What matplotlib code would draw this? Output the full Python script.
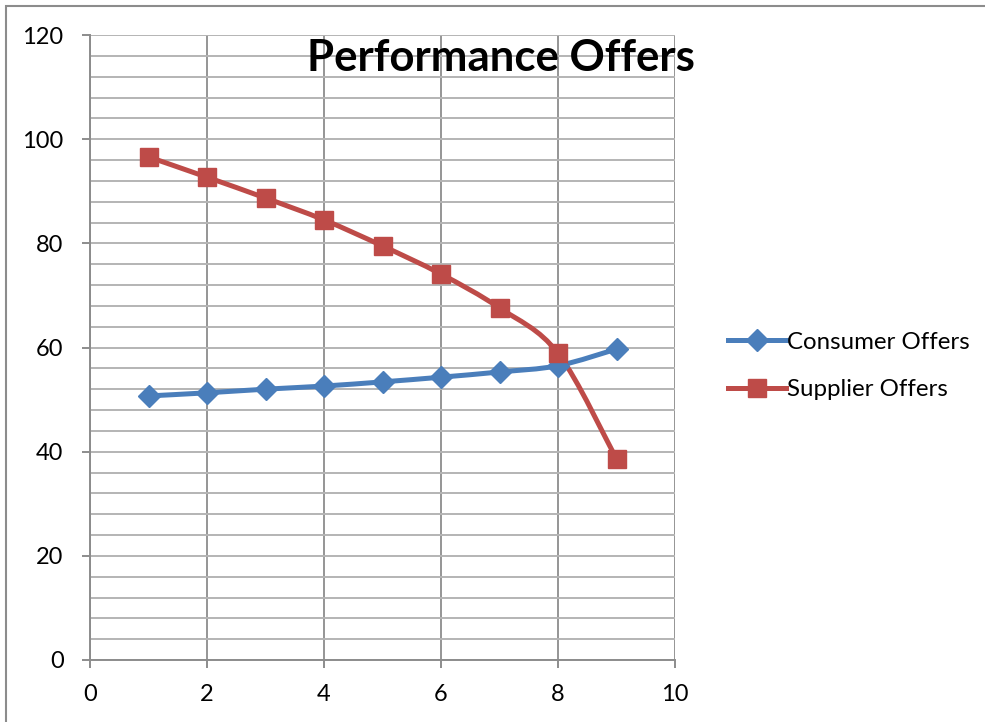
import matplotlib.pyplot as plt
from matplotlib.path import Path
from matplotlib.patches import PathPatch, Rectangle
from matplotlib.lines import Line2D

plt.rcParams['font.family'] = ['Lato', 'DejaVu Sans']

x = [1, 2, 3, 4, 5, 6, 7, 8, 9]
consumer = [50.7, 51.3, 52.0, 52.6, 53.4, 54.3, 55.3, 56.5, 59.7]
supplier = [96.6, 92.7, 88.7, 84.5, 79.5, 74.1, 67.6, 58.9, 38.6]

blue = '#4a7ebb'
red = '#be4b48'


def smooth_path(xs, ys):
    # Catmull-Rom style bezier through the points (like a spreadsheet "smoothed line")
    pts = list(zip(xs, ys))
    n = len(pts)
    verts = [pts[0]]
    codes = [Path.MOVETO]
    for i in range(n - 1):
        p0 = pts[i - 1] if i > 0 else pts[i]
        p1 = pts[i]
        p2 = pts[i + 1]
        p3 = pts[i + 2] if i + 2 < n else pts[i + 1]
        c1 = (p1[0] + (p2[0] - p0[0]) / 6, p1[1] + (p2[1] - p0[1]) / 6)
        c2 = (p2[0] - (p3[0] - p1[0]) / 6, p2[1] - (p3[1] - p1[1]) / 6)
        verts += [c1, c2, p2]
        codes += [Path.CURVE4] * 3
    return Path(verts, codes)


fig = plt.figure(figsize=(9.85, 7.22), dpi=100)
ax = fig.add_axes([90 / 985, 1 - 660 / 722, 585 / 985, 625 / 722])

ax.set_xlim(0, 10)
ax.set_ylim(0, 120)
ax.set_xticks(range(0, 11, 2))
ax.set_yticks(range(0, 121, 20))
ax.set_yticks(range(0, 121, 4), minor=True)

# grid: vertical majors darker, horizontal every 4
ax.grid(axis='x', which='major', color='#8c8c8c', lw=1.3)
ax.grid(axis='y', which='both', color='#b4b4b4', lw=1.4)
ax.set_axisbelow(True)

for s in ['top', 'right']:
    ax.spines[s].set_visible(False)
for s in ['left', 'bottom']:
    ax.spines[s].set_color('#8c8c8c')
    ax.spines[s].set_linewidth(1.4)

ax.tick_params(axis='both', which='major', length=6, width=1.4, color='#8c8c8c',
               labelsize=17)
ax.tick_params(axis='y', which='minor', length=0)
ax.tick_params(axis='y', pad=13)
ax.tick_params(axis='x', pad=11)

ax.add_patch(PathPatch(smooth_path(x, consumer), fc='none', ec=blue, lw=3.6, zorder=3))
ax.plot(x, consumer, ls='none', marker='D', ms=11, color=blue, zorder=4)
ax.add_patch(PathPatch(smooth_path(x, supplier), fc='none', ec=red, lw=3.6, zorder=3))
ax.plot(x, supplier, ls='none', marker='s', ms=13, color=red, zorder=4)

fig.text(501 / 985, 1 - 58 / 722, 'Performance Offers', ha='center', va='center',
         fontsize=31.5, fontweight='bold')

handles = [Line2D([], [], color=blue, lw=3.6, marker='D', ms=11),
           Line2D([], [], color=red, lw=3.6, marker='s', ms=13)]
fig.legend(handles, ['Consumer Offers', 'Supplier Offers'], loc='center left',
           bbox_to_anchor=(716 / 985, 1 - 366 / 722), frameon=False, fontsize=17.3,
           handlelength=2.4, handletextpad=0.05, labelspacing=1.1, borderpad=0)

# chart border
fig.patches.append(Rectangle((6 / 985, -0.1), 1.2, 1.1 - 6 / 722, transform=fig.transFigure,
                             fill=False, ec='#8c8c8c', lw=1.5))

fig.savefig('out.png', dpi=100)
